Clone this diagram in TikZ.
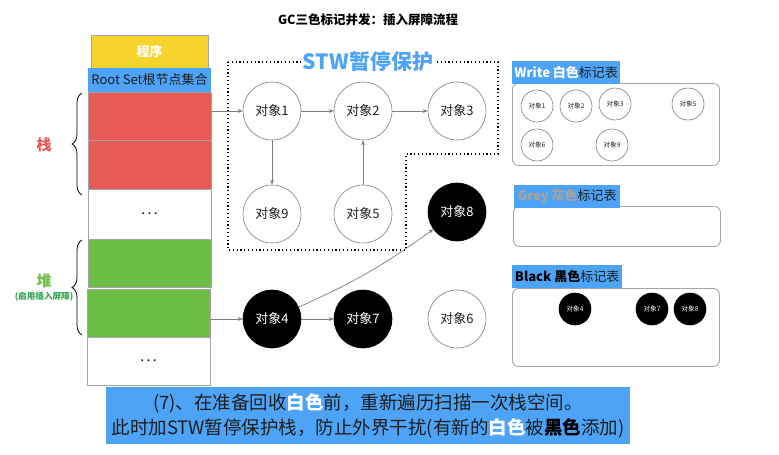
\documentclass[tikz,border=0pt]{standalone}
\usepackage{fontspec}
\setmainfont{Noto Sans CJK SC}
\usetikzlibrary{positioning, arrows.meta, decorations.pathreplacing}
\usepackage{xcolor}
\definecolor{progyellow}{RGB}{246,211,45}
\definecolor{rootblue}{RGB}{77,163,245}
\definecolor{stackred}{RGB}{232,91,85}
\definecolor{heapgreen}{RGB}{108,189,69}
\definecolor{notegreen}{RGB}{50,165,80}
\definecolor{edgegray}{RGB}{165,165,165}
\definecolor{linkgray}{RGB}{125,125,125}
\definecolor{greytext}{RGB}{172,162,150}
\definecolor{inkdark}{RGB}{30,30,30}

\begin{document}
\begin{tikzpicture}[x=1pt, y=-1pt]
  \tikzset{
    slot/.style={
      draw=edgegray,
      line width=1pt,
      minimum width=123pt,
      minimum height=48pt,
      inner sep=0pt
    },
    obj/.style={
      circle,
      draw=linkgray,
      line width=0.6pt,
      minimum size=58pt,
      inner sep=0pt,
      text=inkdark,
      font=\fontsize{13}{13}\selectfont
    },
    objblack/.style={
      obj,
      draw=black,
      fill=black,
      text=white
    },
    mini/.style={
      circle,
      draw=linkgray,
      line width=0.6pt,
      minimum size=32pt,
      inner sep=0pt,
      text=inkdark,
      font=\fontsize{6.6}{6.6}\selectfont
    },
    miniblack/.style={
      mini,
      draw=black,
      fill=black,
      text=white
    },
    link/.style={
      draw=linkgray,
      line width=0.7pt,
      -{Stealth[length=5pt, width=4pt]}
    },
    tablehead/.style={
      fill=rootblue,
      anchor=north west,
      minimum height=23pt,
      inner sep=2pt,
      text=inkdark,
      font=\fontsize{13}{13}\selectfont
    },
    tablebox/.style={
      draw=edgegray,
      line width=0.9pt,
      rounded corners=6pt,
      anchor=north west,
      inner sep=0pt
    }
  }
  \useasboundingbox (0,0) rectangle (779,455);

  % title
  \node[font=\fontsize{12.5}{12.5}\selectfont\bfseries, text=black] (title) at (368,20) {GC三色标记并发：插入屏障流程};

  % program stack column
  \node[slot, fill=progyellow, minimum width=117pt, minimum height=33pt, text=white,
        font=\fontsize{13}{13}\selectfont\bfseries] (prog) at (149.5,51.5) {程序};
  \node[fill=rootblue, minimum width=123pt, minimum height=24pt, inner sep=0pt, text=inkdark,
        font=\fontsize{13}{13}\selectfont] (root) at (149.5,80) {Root Set根节点集合};
  \node[slot, fill=stackred] (stk1) at (149.5,116) {};
  \node[slot, fill=stackred, minimum height=49pt] (stk2) at (149.5,164.5) {};
  \node[slot, fill=white, minimum height=50pt, font=\fontsize{14}{14}\selectfont] (stk3) at (149.5,214) {.\,.\,.};
  \node[slot, fill=heapgreen] (heap1) at (149.5,263) {};
  \node[slot, fill=heapgreen] (heap2) at (148.5,313) {};
  \node[slot, fill=white, font=\fontsize{14}{14}\selectfont] (heap3) at (148.5,361) {.\,.\,.};

  % braces
  \coordinate (stktop) at (82,93);
  \coordinate (stkbot) at (82,195);
  \coordinate (heaptop) at (82,240);
  \coordinate (heapbot) at (82,335);
  \draw[line width=0.8pt, decorate, decoration={brace, amplitude=10pt}] (stkbot) -- (stktop);
  \draw[line width=0.8pt, decorate, decoration={brace, amplitude=10pt}] (heapbot) -- (heaptop);
  \node[text=stackred, font=\fontsize{15}{15}\selectfont\bfseries] (stklabel) at (44,145) {栈};
  \node[text=heapgreen, font=\fontsize{15}{15}\selectfont\bfseries] (heaplabel) at (44,281) {堆};
  \node[text=notegreen, font=\fontsize{8.6}{8.6}\selectfont\bfseries] (heapnote) at (44,297) {(启用插入屏障)};

  % STW protected area
  \draw[line width=1.2pt, dash pattern=on 1.2pt off 2.6pt] (228,62) -- (498,62) -- (498,154) -- (406,154) -- (406,250) -- (228,250) -- cycle;
  \node[fill=white, inner sep=1pt, text=rootblue, font=\fontsize{21}{21}\selectfont\bfseries] (stw) at (368,61) {STW暂停保护};

  % objects
  \node[obj] (o1) at (272,111) {对象1};
  \node[obj] (o2) at (363,111) {对象2};
  \node[obj] (o3) at (457,111) {对象3};
  \node[obj] (o9) at (272,214) {对象9};
  \node[obj] (o5) at (363,214) {对象5};
  \node[objblack] (o8) at (457,212) {对象8};
  \node[objblack] (o4) at (272,319) {对象4};
  \node[objblack] (o7) at (363,319) {对象7};
  \node[obj] (o6) at (457,319) {对象6};

  % references
  \draw[link] (stk1.east |- o1) -- (o1);
  \draw[link] (heap2.east |- o4) -- (o4);
  \draw[link] (o1) -- (o2);
  \draw[link] (o2) -- (o3);
  \draw[link] (o1) -- (o9);
  \draw[link] (o5) -- (o2);
  \draw[link] (o4) -- (o7);
  \draw[link] (o4) to[bend right=6] (o8);

  % white table
  \node[tablebox, minimum width=207pt, minimum height=82pt] (wtab) at (512,83) {};
  \node[tablehead, minimum width=108pt] (whead) at (512,61) {{\bfseries\color{white}Write 白色}标记表};
  \node[mini] (w1) at (537,106) {对象1};
  \node[mini] (w2) at (576,106) {对象2};
  \node[mini] (w3) at (615,104) {对象3};
  \node[mini] (w5) at (688,104) {对象5};
  \node[mini] (w6) at (537,145) {对象6};
  \node[mini] (w9) at (612,145) {对象9};

  % grey table
  \node[tablebox, minimum width=207pt, minimum height=40pt] (gtab) at (513,206) {};
  \node[tablehead, minimum width=106pt] (ghead) at (514,185) {{\bfseries\color{greytext}Grey 灰色}标记表};

  % black table
  \node[tablebox, minimum width=207pt, minimum height=78pt] (btab) at (512,288) {};
  \node[tablehead, minimum width=110pt] (bhead) at (512,265) {{\bfseries\color{black}Black 黑色}标记表};
  \node[miniblack] (b4) at (575,309) {对象4};
  \node[miniblack] (b7) at (652,309) {对象7};
  \node[miniblack] (b8) at (690,309) {对象8};

  % caption
  \node[fill=rootblue, minimum width=524pt, minimum height=57pt, inner sep=0pt, align=center,
        text=inkdark, font=\fontsize{18.5}{25}\selectfont] (caption) at (368,415.5)
    {(7)、在准备回收{\bfseries\color{white}白色}前，重新遍历扫描一次栈空间。\\
     此时加STW暂停保护栈，防止外界干扰(有新的{\bfseries\color{white}白色}被{\bfseries\color{black}黑色}添加)};
\end{tikzpicture}
\end{document}
